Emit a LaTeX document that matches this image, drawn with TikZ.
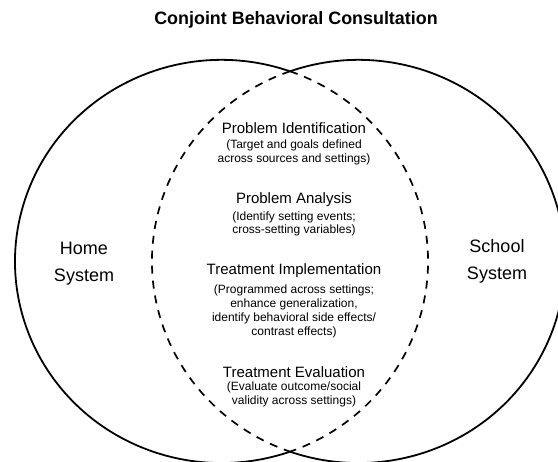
\documentclass[tikz,border=0pt]{standalone}
\usepackage{fontspec}
\setmainfont{Liberation Sans}
\tikzset{
  rim/.style={line width=1.8pt},
  overlap/.style={line width=1.7pt, dash pattern=on 8pt off 7pt},
  heading/.style={font=\bfseries\fontsize{17.9}{20}\selectfont, inner sep=0pt},
  phase/.style={font=\fontsize{15}{17}\selectfont, inner sep=0pt},
  phasenote/.style={font=\fontsize{12}{13.8}\selectfont, align=center, inner sep=0pt},
  system/.style={font=\fontsize{18}{27}\selectfont, align=center, inner sep=0pt}
}
\begin{document}
\begin{tikzpicture}[x=1pt, y=-1pt]
\useasboundingbox (0,0) rectangle (558,462);
\clip (0,0) rectangle (558,462);
% Circles
\coordinate (top) at (290,71.3);
\coordinate (bottom) at (290,451.7);
\draw[rim] (top) arc[start angle=-70.63, end angle=-289.37, x radius=206.5, y radius=201.6];
\draw[overlap] (top) arc[start angle=-70.63, end angle=70.63, x radius=206.5, y radius=201.6];
\draw[rim] (top) arc[start angle=250.63, end angle=469.37, x radius=206.5, y radius=201.6];
\draw[overlap] (top) arc[start angle=250.63, end angle=109.37, x radius=206.5, y radius=201.6];
% Labels
\node[heading] (title) at (296,20) {Conjoint Behavioral Consultation};
\node[system] (home) at (84,263.5) {Home\\System};
\node[system] (school) at (497,261) {School\\System};
\node[phase] (identify) at (294,128) {Problem Identification};
\node[phasenote] (identifynote) at (294,152.5) {(Target and goals defined\\across sources and settings)};
\node[phase] (analysis) at (294,200) {Problem Analysis};
\node[phasenote] (analysisnote) at (294,224) {(Identify setting events;\\cross-setting variables)};
\node[phase] (implement) at (294,271) {Treatment Implementation};
\node[phasenote] (implementnote) at (294,311.5) {(Programmed across settings;\\enhance generalization,\\identify behavioral side effects/\\contrast effects)};
\node[phase] (evaluate) at (294,372) {Treatment Evaluation};
\node[phasenote] (evaluatenote) at (294,394.5) {(Evaluate outcome/social\\validity across settings)};
\end{tikzpicture}
\end{document}
